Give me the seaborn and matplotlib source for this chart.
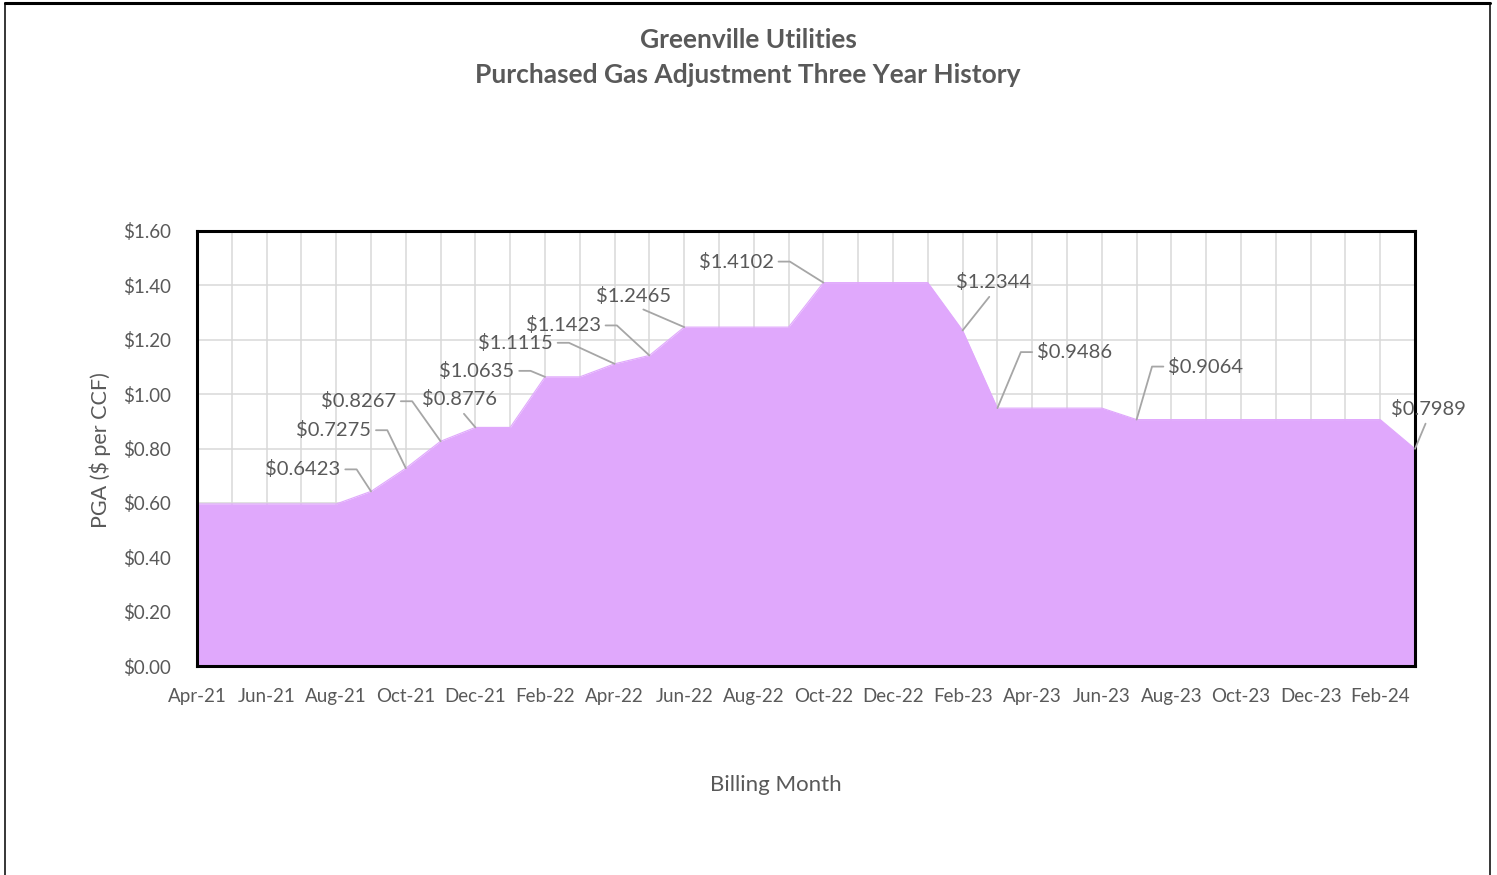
import pandas as pd
import matplotlib.pyplot as plt
import seaborn as sns
from matplotlib.lines import Line2D

# monthly PGA, Apr-21 .. Mar-24
months = pd.date_range("2021-04-01", "2024-03-01", freq="MS").strftime("%b-%y").tolist()
pga = [0.5960, 0.5960, 0.5960, 0.5960, 0.5960, 0.6423, 0.7275, 0.8267, 0.8776, 0.8776,
       1.0635, 1.0635, 1.1115, 1.1423, 1.2465, 1.2465, 1.2465, 1.2465, 1.4102, 1.4102,
       1.4102, 1.4102, 1.2344, 0.9486, 0.9486, 0.9486, 0.9486, 0.9064, 0.9064, 0.9064,
       0.9064, 0.9064, 0.9064, 0.9064, 0.9064, 0.7989]
labelled = ["Sep-21", "Oct-21", "Nov-21", "Dec-21", "Feb-22", "Apr-22", "May-22",
            "Jun-22", "Oct-22", "Feb-23", "Mar-23", "Jul-23", "Mar-24"]

df = pd.DataFrame({"month": months, "pga": pga})
df["idx"] = range(len(df))

FILL = "#E0A8FC"
GREY = "#595959"

sns.set_style("white")
plt.rcParams["font.family"] = ["Lato", "DejaVu Sans"]

fig = plt.figure(figsize=(14.97, 8.75), dpi=100)
ax = fig.add_axes([197/1497, 1-666/875, (1415-197)/1497, (666-231)/875])

sns.lineplot(data=df, x="idx", y="pga", color=FILL, linewidth=0.8, ax=ax)
ax.fill_between(df["idx"], df["pga"], color=FILL, linewidth=0, zorder=2)

ax.set_xlim(0, len(df)-1)
ax.set_ylim(0, 1.6)
ax.set_xticks(df["idx"][::2])
ax.set_xticklabels(df["month"][::2])
ax.set_xticks(df["idx"][1::2], minor=True)
ax.set_yticks([i*0.2 for i in range(9)])
ax.set_yticklabels([f"${i*0.2:.2f}" for i in range(9)])

ax.set_axisbelow(True)
ax.grid(axis="x", which="both", color="#D9D9D9", linewidth=1.1)
ax.grid(axis="y", which="major", color="#D9D9D9", linewidth=1.1)
for s in ax.spines.values():
    s.set_color("black")
    s.set_linewidth(2.2)

ax.tick_params(axis="x", which="both", direction="in", length=5, width=2,
               color="black", labelsize=13.5, labelcolor=GREY, pad=16)
ax.tick_params(axis="y", direction="out", length=6, width=2, color="black",
               labelsize=13.5, labelcolor=GREY, pad=13)
ax.tick_params(axis="x", which="minor", labelbottom=False)
ax.set_xlabel("")
ax.set_ylabel("")

# data labels: (dx, dy) offset in pixels, leader type
offsets = {
    "Sep-21": (-68, 22, "right"), "Oct-21": (-72, 38, "right"),
    "Nov-21": (-82, 40, "right"), "Dec-21": (-16, 28, "bottom"),
    "Feb-22": (-68, 6, "right"), "Apr-22": (-99, 21, "right"),
    "May-22": (-86, 30, "right"), "Jun-22": (-51, 31, "bottom"),
    "Oct-22": (-87, 21, "right"), "Feb-23": (31, 48, "bottom"),
    "Mar-23": (77, 56, "left"), "Jul-23": (69, 53, "left"),
    "Mar-24": (13, 40, "bottom"),
}
for m in labelled:
    row = df[df["month"] == m].iloc[0]
    dx, dy, kind = offsets[m]
    if kind == "right":
        ap = dict(arrowstyle="-", color="#A6A6A6", lw=1.3, relpos=(1, 0.5), shrinkA=1, shrinkB=0,
                  connectionstyle="arc,angleA=0,armA=16,angleB=0,armB=0,rad=0")
    elif kind == "left":
        ap = dict(arrowstyle="-", color="#A6A6A6", lw=1.3, relpos=(0, 0.5), shrinkA=1, shrinkB=0,
                  connectionstyle="arc,angleA=180,armA=16,angleB=0,armB=0,rad=0")
    else:
        ap = dict(arrowstyle="-", color="#A6A6A6", lw=1.3, relpos=(0.5, 0), shrinkA=2, shrinkB=0)
    ax.annotate(f"${row['pga']:.4f}", xy=(row["idx"], row["pga"]), xytext=(dx, dy),
                textcoords="offset pixels", ha="center", va="center", fontsize=14.5,
                color=GREY, arrowprops=ap, zorder=5, annotation_clip=False)

fig.text(748/1497, 1-40/875, "Greenville Utilities", ha="center", va="center",
         fontsize=19, fontweight="bold", color=GREY)
fig.text(748/1497, 1-75/875, "Purchased Gas Adjustment Three Year History", ha="center",
         va="center", fontsize=19, fontweight="bold", color=GREY)
fig.text(776/1497, 1-785/875, "Billing Month", ha="center", va="center", fontsize=16, color=GREY)
fig.text(100/1497, 1-450/875, "PGA ($ per CCF)", ha="center", va="center", rotation=90,
         fontsize=15.5, color=GREY)

# outer chart border
fig.add_artist(Line2D([5/1497, 1490/1497], [1-3/875, 1-3/875], color="black", lw=2.2))
fig.add_artist(Line2D([5/1497, 5/1497], [0, 1-3/875], color="black", lw=1.1))
fig.add_artist(Line2D([1490/1497, 1490/1497], [0, 1-3/875], color="black", lw=1.1))

fig.savefig("out.png", dpi=100)
